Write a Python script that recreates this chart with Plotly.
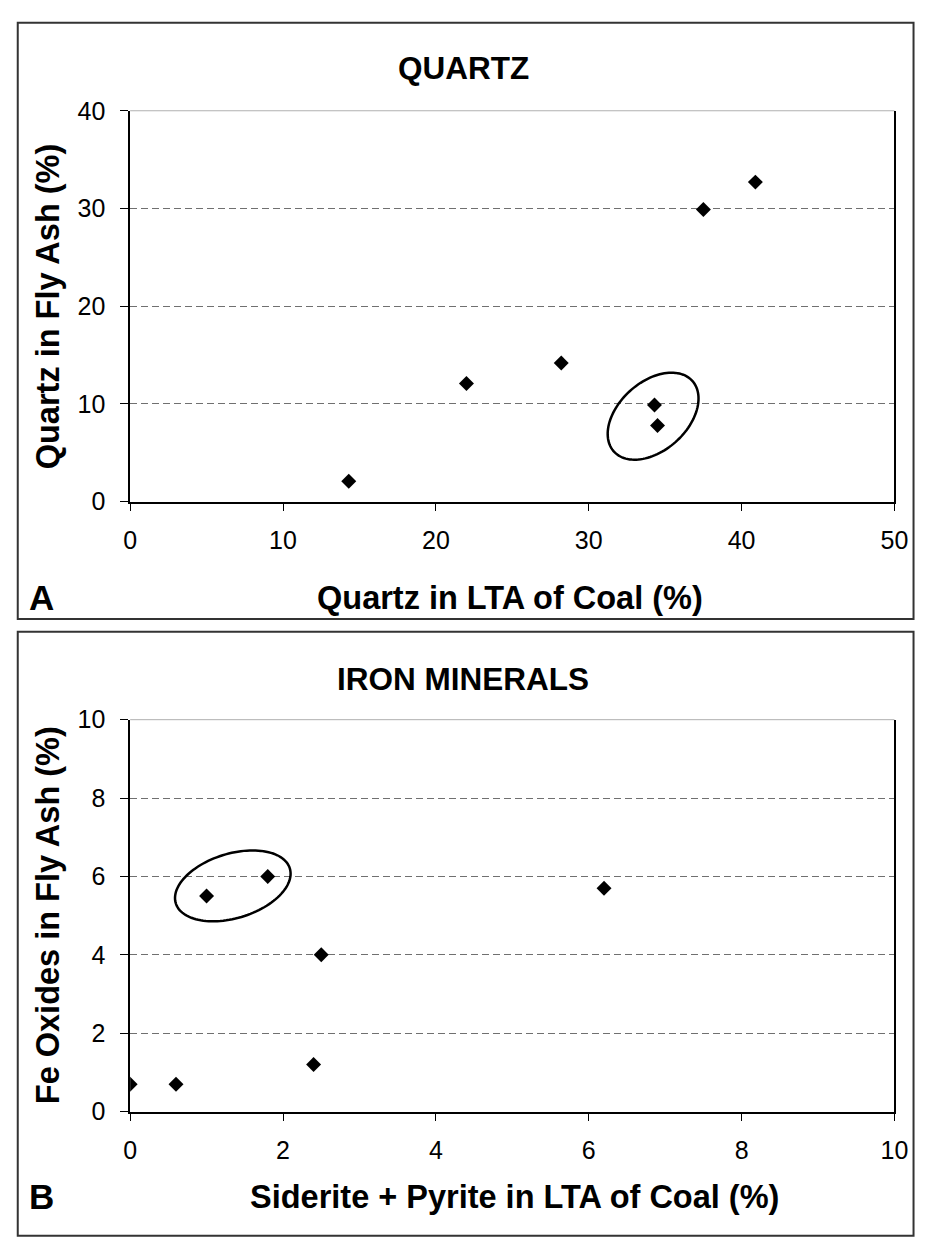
import numpy as np
import plotly.graph_objects as go

# ---------------- data ----------------
quartz_lta = [14.3, 22.0, 28.2, 34.3, 34.5, 37.5, 40.9]
quartz_ash = [2.1, 12.1, 14.2, 9.9, 7.8, 29.9, 32.7]

iron_lta = [0.0, 0.6, 1.0, 1.8, 2.5, 2.4, 6.2]
iron_ash = [0.7, 0.7, 5.5, 6.0, 4.0, 1.2, 5.7]

quartz_xticks = [0, 10, 20, 30, 40, 50]
quartz_yticks = [0, 10, 20, 30, 40]
iron_xticks = [0, 2, 4, 6, 8, 10]
iron_yticks = [0, 2, 4, 6, 8, 10]

# ---------------- geometry (pixels) ----------------
W, H = 929, 1239
PX_L, PX_R = 126, 908
TOP_T, TOP_B = 99, 499
BOT_T, BOT_B = 722, 1123

def px(x):
    return x / W

def py(y):
    return 1 - y / H

FONT = "Liberation Sans, Arial, sans-serif"

fig = go.Figure()

fig.add_trace(go.Scatter(x=quartz_lta, y=quartz_ash, mode="markers",
                         marker=dict(symbol="diamond", size=11.5, color="black"),
                         xaxis="x", yaxis="y", showlegend=False))
fig.add_trace(go.Scatter(x=iron_lta, y=iron_ash, mode="markers",
                         marker=dict(symbol="diamond", size=11.5, color="black"),
                         xaxis="x2", yaxis="y2", showlegend=False))

def ellipse_path(cx, cy, a, b, theta_deg, sx, sy, n=120):
    th = np.radians(theta_deg)
    t = np.linspace(0, 2 * np.pi, n)
    dx = a * np.cos(th) * np.cos(t) - b * np.sin(th) * np.sin(t)
    dy = a * np.sin(th) * np.cos(t) + b * np.cos(th) * np.sin(t)
    xs = cx + dx / sx
    ys = cy + dy / sy
    d = "M " + " L ".join(f"{x:.4f},{y:.4f}" for x, y in zip(xs, ys)) + " Z"
    return d

sx1 = (PX_R - PX_L) / 50.0
sy1 = (TOP_B - TOP_T) / 40.0
sx2 = (PX_R - PX_L) / 10.0
sy2 = (BOT_B - BOT_T) / 10.0

shapes = []
shapes.append(dict(type="path", xref="x", yref="y",
                   path=ellipse_path(34.21, 8.75, 54, 35, 42, sx1, sy1),
                   line=dict(color="black", width=2.5)))
shapes.append(dict(type="path", xref="x2", yref="y2",
                   path=ellipse_path(1.343, 5.76, 61, 33, 17, sx2, sy2),
                   line=dict(color="black", width=2.5)))

# outer panel boxes
shapes.append(dict(type="rect", xref="paper", yref="paper",
                   x0=px(11), x1=px(927.5), y0=py(619), y1=py(9),
                   line=dict(color="#333333", width=2), layer="below"))
shapes.append(dict(type="rect", xref="paper", yref="paper",
                   x0=px(11), x1=px(927.5), y0=py(1250), y1=py(632),
                   line=dict(color="#333333", width=2), layer="below"))

# faint top border of plot areas
for t in (TOP_T, BOT_T):
    shapes.append(dict(type="line", xref="paper", yref="paper",
                       x0=px(PX_L), x1=px(PX_R), y0=py(t), y1=py(t),
                       line=dict(color="#b0b0b0", width=1), layer="below"))

axis_common = dict(showline=True, linecolor="black", linewidth=1.5,
                   ticks="outside", ticklen=8, tickcolor="black", tickwidth=1,
                   tickfont=dict(family=FONT, size=25, color="black"),
                   zeroline=False, fixedrange=True)

fig.update_layout(
    width=W, height=H,
    margin=dict(l=0, r=0, t=0, b=0),
    paper_bgcolor="white", plot_bgcolor="white",
    font=dict(family=FONT, color="black"),
    shapes=shapes,
    xaxis=dict(domain=[px(PX_L), px(PX_R)], range=[0, 50], tickvals=quartz_xticks,
               anchor="y", showgrid=False, ticklabelstandoff=8, **axis_common),
    yaxis=dict(domain=[py(TOP_B), py(TOP_T)], range=[0, 40], tickvals=quartz_yticks,
               anchor="x", showgrid=True, gridcolor="#707070", griddash="7px,4px",
               gridwidth=1, mirror=True, ticklabelstandoff=10, **axis_common),
    xaxis2=dict(domain=[px(PX_L), px(PX_R)], range=[0, 10], tickvals=iron_xticks,
                anchor="y2", showgrid=False, ticklabelstandoff=8, **axis_common),
    yaxis2=dict(domain=[py(BOT_B), py(BOT_T)], range=[0, 10], tickvals=iron_yticks,
                anchor="x2", showgrid=True, gridcolor="#707070", griddash="7px,4px",
                gridwidth=1, mirror=True, ticklabelstandoff=10, **axis_common),
)

def ann(text, x, y, size, angle=0):
    return dict(text=f"<b>{text}</b>", xref="paper", yref="paper",
                x=px(x), y=py(y), xanchor="center", yanchor="middle",
                showarrow=False, textangle=angle,
                font=dict(family=FONT, size=size, color="black"))

fig.update_layout(annotations=[
    ann("QUARTZ", 467, 55, 31.5),
    ann("Quartz in LTA of Coal (%)", 515, 597, 32.5),
    ann("Quartz in Fly Ash (%)", 42, 299, 32.5, -90),
    ann("A", 35, 597, 35),
    ann("IRON MINERALS", 467, 680, 31.5),
    ann("Siderite + Pyrite in LTA of Coal (%)", 519, 1210, 32.5),
    ann("Fe Oxides in Fly Ash (%)", 42, 922, 32.5, -90),
    ann("B", 35, 1210, 35),
])

fig.write_html(
    "out.html",
    config={"displayModeBar": False},
    post_script=(
        "var d=document.getElementById('{plot_id}');"
        "d.style.position='fixed';d.style.left='0px';d.style.top='0px';"
        "document.documentElement.style.overflow='hidden';"
        "document.body.style.margin='0px';document.body.style.overflow='hidden';"
    ),
)
